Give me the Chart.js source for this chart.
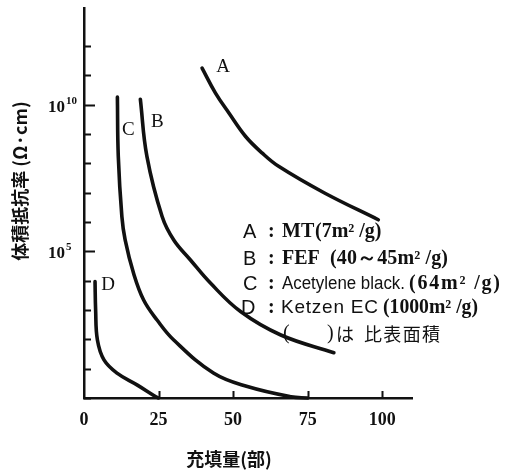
<!DOCTYPE html>
<html>
<head>
<meta charset="utf-8">
<script src="https://cdn.jsdelivr.net/npm/chart.js@4.4.1/dist/chart.umd.min.js"></script>
<style>
  html, body { margin: 0; padding: 0; background: #fff; }
  canvas { display: block; }
</style>
</head>
<body>
<canvas id="resist" width="513" height="473"></canvas>
<script>
// 充填量 (部) against 体積抵抗率 (Ω·cm) for four carbon blacks
const mtLoad  = [39.6, 44.1, 48.6, 54.2, 59.8, 65.4, 80.5, 98.7];
const mtRes   = [1.78e11, 2.5e10, 5.25e9, 8.3e8, 2.24e8, 7.8e7, 1.0e7, 1.2e6];

const fefLoad = [18.9, 21.1, 26.2, 30.1, 35.7, 42.4, 52.5, 66.0, 83.8];
const fefRes  = [1.55e10, 1.74e8, 1.55e6, 2.45e5, 5.1e4, 8.3e3, 890, 141, 35];

const acLoad  = [11.2, 11.5, 12.7, 13.8, 16.6, 20.0, 24.5, 30.1, 43.4, 54.8, 69.4, 75.0];
const acRes   = [1.82e10, 1.74e8, 1.55e6, 2.45e5, 1.82e4, 2.19e3, 457, 95, 7.1, 2.45, 1.1, 1];

const kecLoad = [3.7, 3.9, 4.5, 6.7, 11.2, 17.9, 24.1, 25.0];
const kecRes  = [9.3e3, 1.0e3, 95, 20, 6.9, 2.75, 1.1, 1];

const curveNames = ['A', 'B', 'C', 'D'];
const xTicks = [0, 25, 50, 75, 100];
const yTicks = [1e0, 1e1, 1e2, 1e3, 1e4, 1e5, 1e6, 1e7, 1e8, 1e9, 1e10, 1e11, 1e12];
const yLabelled = [1e5, 1e10];

const INK = '#111';
const SERIF = '"Liberation Serif", "DejaVu Serif", serif';
const SANS = '"Liberation Sans", "DejaVu Sans", sans-serif';
const CJK = '"Noto Sans CJK JP", "Noto Sans CJK SC", sans-serif';

const toPoints = (xs, ys) => xs.map((x, i) => ({ x, y: ys[i] }));

const curve = (name, xs, ys) => ({
  label: name,
  data: toPoints(xs, ys),
  borderColor: INK,
  borderWidth: 3.6,
  borderCapStyle: 'round',
  borderJoinStyle: 'round',
  tension: 0.4,
  pointRadius: 0,
  fill: false,
  clip: false
});

// letter offsets from the first point of each curve
const nameOffsets = [[21, -1], [17, 23], [11, 33], [13, 3]];

// key rows: [text, left, right (0 = natural width), font]
const KEY_SERIF = 'bold 20px ' + SERIF;
const legendRows = [
  { y: 232, parts: [['A', 243, 0, '20px ' + SANS], [':', 268, 0, KEY_SERIF],
                    ['MT', 282, 0, KEY_SERIF], ['(7m² /g)', 315, 0, KEY_SERIF]] },
  { y: 259, parts: [['B', 243, 0, '20px ' + SANS], [':', 268, 0, KEY_SERIF],
                    ['FEF', 282, 0, KEY_SERIF], ['(40～45m² /g)', 330, 448, KEY_SERIF]] },
  { y: 284, parts: [['C', 243, 0, '20px ' + SANS], [':', 268, 0, KEY_SERIF],
                    ['Acetylene black.', 282, 405, '18px ' + SANS], ['(64m² /g)', 409, 500, KEY_SERIF]] },
  { y: 308, parts: [['D', 241, 0, '20px ' + SANS], [':', 268, 0, KEY_SERIF],
                    ['Ketzen EC', 281, 378, '19px ' + SANS], ['(1000m² /g)', 383, 478, KEY_SERIF]] },
  { y: 334, parts: [['(', 283, 0, '20px ' + SERIF], [')', 327, 0, '20px ' + SERIF],
                    ['は', 336, 0, '18px ' + CJK], ['比表面積', 364, 440, '18px ' + CJK]] }
];

// stretch a run of text to a given width, or squeeze it when it runs long
function fitText(ctx, text, left, right, font, y) {
  ctx.font = font;
  const w = ctx.measureText(text).width;
  if (!right) { ctx.fillText(text, left, y); return; }
  const target = right - left;
  ctx.save();
  if (target > w && text.length > 1) {
    ctx.letterSpacing = ((target - w) / (text.length - 1)).toFixed(2) + 'px';
    ctx.fillText(text, left, y);
  } else {
    ctx.translate(left, y);
    ctx.scale(target / w, 1);
    ctx.fillText(text, 0, 0);
  }
  ctx.restore();
}

const decorations = {
  id: 'decorations',
  afterDraw(chart) {
    const { ctx, chartArea: a } = chart;
    const x = chart.scales.x, y = chart.scales.y;
    ctx.save();
    ctx.strokeStyle = INK;
    ctx.fillStyle = INK;
    ctx.lineWidth = 2;

    // tick marks point into the plot
    ctx.beginPath();
    yTicks.forEach(v => {
      const py = Math.round(y.getPixelForValue(v)) + 0.5;
      const len = yLabelled.includes(v) ? 11 : 7;
      ctx.moveTo(a.left, py);
      ctx.lineTo(a.left + len, py);
    });
    xTicks.slice(1).forEach(v => {
      const px = Math.round(x.getPixelForValue(v)) + 0.5;
      ctx.moveTo(px, a.bottom);
      ctx.lineTo(px, a.bottom - 7);
    });
    ctx.stroke();

    // decade labels 10^5, 10^10
    ctx.textBaseline = 'alphabetic';
    ctx.textAlign = 'left';
    yLabelled.forEach(v => {
      const py = y.getPixelForValue(v);
      ctx.font = 'bold 17px ' + SERIF;
      ctx.fillText('10', 48, py + 7);
      const w = ctx.measureText('10').width;
      ctx.font = 'bold 11px ' + SERIF;
      ctx.fillText(String(Math.round(Math.log10(v))), 48 + w + 1, py - 1);
    });

    // curve letters
    ctx.font = '19px ' + SERIF;
    ctx.textAlign = 'center';
    ctx.textBaseline = 'middle';
    chart.data.datasets.forEach((ds, i) => {
      const p0 = ds.data[0];
      const [dx, dy] = nameOffsets[i];
      ctx.fillText(curveNames[i], x.getPixelForValue(p0.x) + dx, y.getPixelForValue(p0.y) + dy);
    });

    // key
    ctx.textAlign = 'left';
    legendRows.forEach(row => {
      row.parts.forEach(([text, left, right, font]) => fitText(ctx, text, left, right, font, row.y));
    });

    // axis titles
    ctx.font = 'bold 18px ' + CJK;
    ctx.textAlign = 'center';
    ctx.fillText('充填量(部)', 229, 459);

    ctx.translate(20, 181);
    ctx.rotate(-Math.PI / 2);
    ctx.font = 'bold 18px ' + CJK;
    ctx.fillText('体積抵抗率 (Ω·cm)', 0, 0);
    ctx.restore();
  }
};

new Chart(document.getElementById('resist').getContext('2d'), {
  type: 'line',
  data: {
    datasets: [
      curve('A', mtLoad, mtRes),
      curve('B', fefLoad, fefRes),
      curve('C', acLoad, acRes),
      curve('D', kecLoad, kecRes)
    ]
  },
  options: {
    responsive: false,
    animation: false,
    layout: { padding: { top: 8, right: 101, left: 0, bottom: 0 } },
    plugins: { legend: { display: false }, tooltip: { enabled: false } },
    scales: {
      x: {
        type: 'linear',
        min: 0,
        max: 110,
        afterBuildTicks: s => { s.ticks = xTicks.map(value => ({ value })); },
        afterFit: s => { s.height = 75; },
        grid: { display: false, drawTicks: false },
        border: { display: true, color: INK, width: 2.5 },
        ticks: { color: INK, padding: 12, font: { family: SERIF, size: 18, weight: 'bold' } }
      },
      y: {
        type: 'logarithmic',
        min: 1,
        max: 2e13,
        afterBuildTicks: s => { s.ticks = yTicks.map(value => ({ value })); },
        afterFit: s => { s.width = 84; },
        grid: { display: false, drawTicks: false },
        border: { display: true, color: INK, width: 2.5 },
        ticks: { display: false }
      }
    }
  },
  plugins: [decorations]
});
</script>
</body>
</html>
